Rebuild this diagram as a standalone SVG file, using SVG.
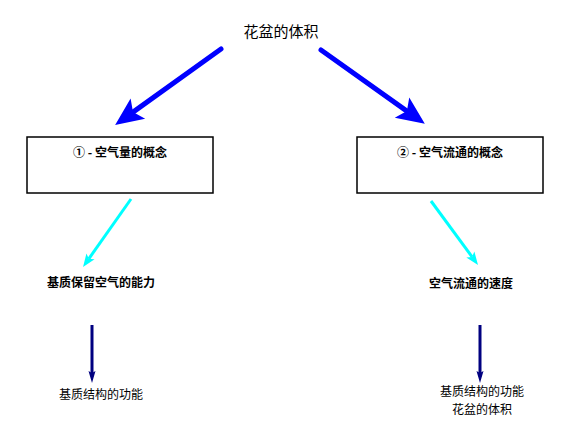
<svg xmlns="http://www.w3.org/2000/svg" width="577" height="430" viewBox="0 0 577 430">
<style>
text{font-family:"Noto Sans CJK SC","Liberation Sans",sans-serif;fill:#000;text-anchor:middle}
.t{font-size:15px}
.b{font-size:12px;font-weight:bold}
.n{font-size:12px}
.box{fill:#fff;stroke:#000;stroke-width:1.5}
.a1{stroke:#0000ff;stroke-width:5;fill:none;stroke-linecap:round}
.a2{stroke:#00ffff;stroke-width:3;fill:none}
.a3{stroke:#000080;stroke-width:3;fill:none}
</style>
<defs>
<marker id="mb" viewBox="0 -14 29 28" refX="6" refY="0" markerWidth="29" markerHeight="28" markerUnits="userSpaceOnUse" orient="auto"><path d="M0,-12.5 L28,0 L0,12.5 L6,0 Z" fill="#0000ff"/></marker>
<marker id="mc" viewBox="0 -6 14 12" refX="3" refY="0" markerWidth="14" markerHeight="12" markerUnits="userSpaceOnUse" orient="auto"><path d="M0,-5 L13,0 L0,5 L3,0 Z" fill="#00ffff"/></marker>
<marker id="mn" viewBox="0 -4 13 8" refX="2" refY="0" markerWidth="13" markerHeight="8" markerUnits="userSpaceOnUse" orient="auto"><path d="M0,-3.5 L12,0 L0,3.5 L2,0 Z" fill="#000080"/></marker>
</defs>
<g id="connectors">
<line class="a1" x1="221" y1="49" x2="133" y2="112.1" marker-end="url(#mb)"/>
<line class="a1" x1="321" y1="50" x2="406.9" y2="111.1" marker-end="url(#mb)"/>
<line class="a2" x1="131" y1="199" x2="88.8" y2="258.8" marker-end="url(#mc)"/>
<line class="a2" x1="431" y1="201" x2="472.1" y2="256.9" marker-end="url(#mc)"/>
<line class="a3" x1="92" y1="325" x2="92" y2="373" marker-end="url(#mn)"/>
<line class="a3" x1="480" y1="325" x2="480" y2="373" marker-end="url(#mn)"/>
</g>
<g id="title"><text class="t" x="281" y="37">花盆的体积</text></g>
<g id="box1"><rect class="box" x="27" y="137" width="186" height="56"/><text class="b" x="120" y="157">① - 空气量的概念</text></g>
<g id="box2"><rect class="box" x="357" y="137" width="186" height="56"/><text class="b" x="450" y="157">② - 空气流通的概念</text></g>
<g id="n1"><text class="b" x="101" y="287">基质保留空气的能力</text></g>
<g id="n2"><text class="b" x="471" y="288">空气流通的速度</text></g>
<g id="n3"><text class="n" x="101" y="399">基质结构的功能</text></g>
<g id="n4"><text class="n" x="482" y="396">基质结构的功能</text><text class="n" x="482" y="414">花盆的体积</text></g>
</svg>
